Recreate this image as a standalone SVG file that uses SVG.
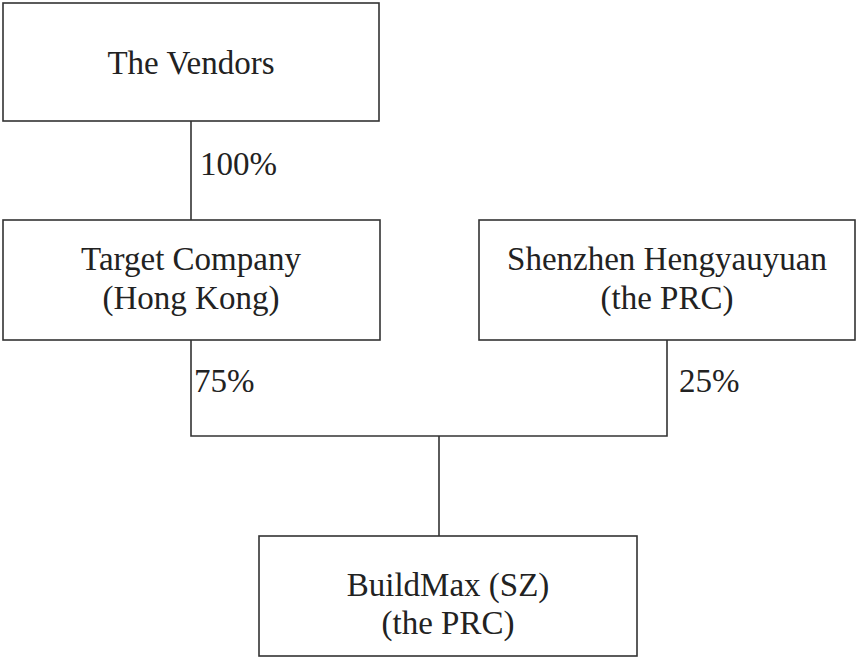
<svg xmlns="http://www.w3.org/2000/svg" width="857" height="658" viewBox="0 0 857 658">
<style>
.box{fill:#fff;stroke:#333;stroke-width:1.6}
.ln{fill:none;stroke:#333;stroke-width:1.6}
text{font-family:"Liberation Serif","Times New Roman",serif;font-size:33px;fill:#222}
.c{text-anchor:middle}
</style>
<rect width="857" height="658" fill="#fff"/>
<g id="connectors">
<line class="ln" x1="191" y1="121" x2="191" y2="220"/>
<polyline class="ln" points="191,340 191,436 667,436 667,340"/>
<line class="ln" x1="439" y1="436" x2="439" y2="536"/>
<text x="200" y="175">100%</text>
<text x="194" y="392">75%</text>
<text x="679" y="392">25%</text>
</g>
<g id="vendors">
<rect class="box" x="3" y="3" width="376" height="118"/>
<text class="c" x="191" y="74">The Vendors</text>
</g>
<g id="target">
<rect class="box" x="3" y="220" width="377" height="120"/>
<text class="c" x="191" y="270">Target Company</text>
<text class="c" x="191" y="309">(Hong Kong)</text>
</g>
<g id="shenzhen">
<rect class="box" x="479" y="220" width="376" height="120"/>
<text class="c" x="667" y="270">Shenzhen Hengyauyuan</text>
<text class="c" x="667" y="309">(the PRC)</text>
</g>
<g id="buildmax">
<rect class="box" x="259" y="536" width="378" height="120"/>
<text class="c" x="448" y="596">BuildMax (SZ)</text>
<text class="c" x="448" y="634">(the PRC)</text>
</g>
</svg>
